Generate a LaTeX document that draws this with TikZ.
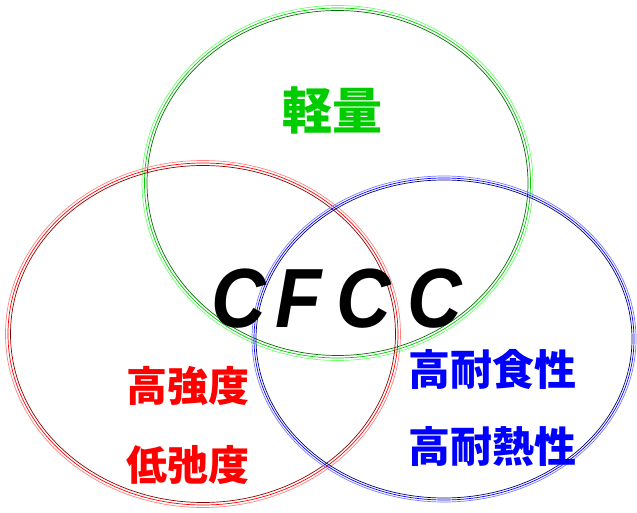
\documentclass[tikz,border=0pt]{standalone}
\usepackage{fontspec}
\setmainfont{Liberation Sans}
\newfontfamily\cjk{Noto Sans CJK JP}
\definecolor{grn}{RGB}{0,204,0}
\definecolor{grnlight}{RGB}{110,255,110}
\definecolor{grndark}{RGB}{0,110,0}
\definecolor{redlight}{RGB}{255,130,130}
\definecolor{reddark}{RGB}{140,0,0}
\definecolor{blulight}{RGB}{120,120,255}
\definecolor{bludark}{RGB}{0,0,120}
\tikzset{
  ring/.style={line width=0.7pt},
  word/.style={font=\cjk\bfseries\fontsize{41}{41}\selectfont, inner sep=0pt},
}
\begin{document}
\begin{tikzpicture}[x=1pt,y=-1pt]
  \useasboundingbox (0,0) rectangle (637,513);
  % green ring
  \draw[ring,grnlight] (337.5,183) ellipse [x radius=195.5pt, y radius=177.5pt];
  \draw[ring,grn] (337.5,183) ellipse [x radius=193pt, y radius=175pt];
  \draw[ring,grndark] (337.5,183) ellipse [x radius=190.5pt, y radius=172.5pt];
  % red ring
  \draw[ring,redlight] (203,334) ellipse [x radius=197.5pt, y radius=173.5pt];
  \draw[ring,red] (203,334) ellipse [x radius=195pt, y radius=171pt];
  \draw[ring,reddark] (203,334) ellipse [x radius=192.5pt, y radius=168.5pt];
  % blue ring
  \draw[ring,blulight] (444,339) ellipse [x radius=192pt, y radius=163pt];
  \draw[ring,blue] (444,339) ellipse [x radius=190pt, y radius=161pt];
  \draw[ring,bludark] (444,339) ellipse [x radius=188pt, y radius=159pt];
  % labels
  \node[word,grn,font=\cjk\bfseries\fontsize{50}{50}\selectfont] (light) at (332,110) {軽量};
  \node[word,red] (strength) at (188,386) {高強度};
  \node[word,red] (sag) at (188,465) {低弛度};
  \node[word,blue,font=\cjk\bfseries\fontsize{42}{42}\selectfont] (corrosion) at (492,369) {高耐食性};
  \node[word,blue,font=\cjk\bfseries\fontsize{42}{42}\selectfont] (heat) at (492,447) {高耐熱性};
  \node[inner sep=0pt,xscale=0.9,font=\bfseries\itshape\fontsize{84}{84}\selectfont] (cfcc) at (337,299) {C\hspace{0.12em}F\hspace{0.2em}C\hspace{0.22em}C};
\end{tikzpicture}
\end{document}
